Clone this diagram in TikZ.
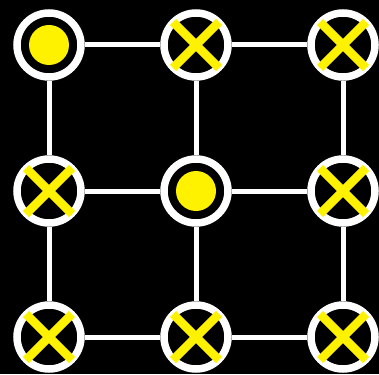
\documentclass[tikz,border=0pt]{standalone}
\begin{document}
\begin{tikzpicture}[x=1pt,y=1pt,
  ring/.style={circle,draw=white,fill=black,line width=7.5pt,minimum size=64pt,inner sep=0pt},
  link/.style={draw=white,line width=5pt},
  xbar/.style={draw=yellow,line width=8.5pt},
  dot/.style={fill=yellow}]
\fill[black] (0,0) rectangle (379,-374);
\useasboundingbox (0,0) rectangle (379,-374);
\node[ring] (n11) at (49,-45) {};
\node[ring] (n12) at (196,-45) {};
\node[ring] (n13) at (343,-45) {};
\node[ring] (n21) at (49,-191) {};
\node[ring] (n22) at (196,-191) {};
\node[ring] (n23) at (343,-191) {};
\node[ring] (n31) at (49,-337) {};
\node[ring] (n32) at (196,-337) {};
\node[ring] (n33) at (343,-337) {};
\path[link] (n11) -- (n12) (n12) -- (n13)
  (n21) -- (n22) (n22) -- (n23)
  (n31) -- (n32) (n32) -- (n33)
  (n11) -- (n21) (n21) -- (n31)
  (n12) -- (n22) (n22) -- (n32)
  (n13) -- (n23) (n23) -- (n33);
\fill[dot] (n11.center) circle (20);
\fill[dot] (n22.center) circle (20);
\foreach \n in {n12,n13,n21,n23,n31,n32,n33}{
  \draw[xbar] ([shift={(-23,23)}]\n.center) -- ([shift={(23,-23)}]\n.center);
  \draw[xbar] ([shift={(-23,-23)}]\n.center) -- ([shift={(23,23)}]\n.center);
}
\end{tikzpicture}
\end{document}
